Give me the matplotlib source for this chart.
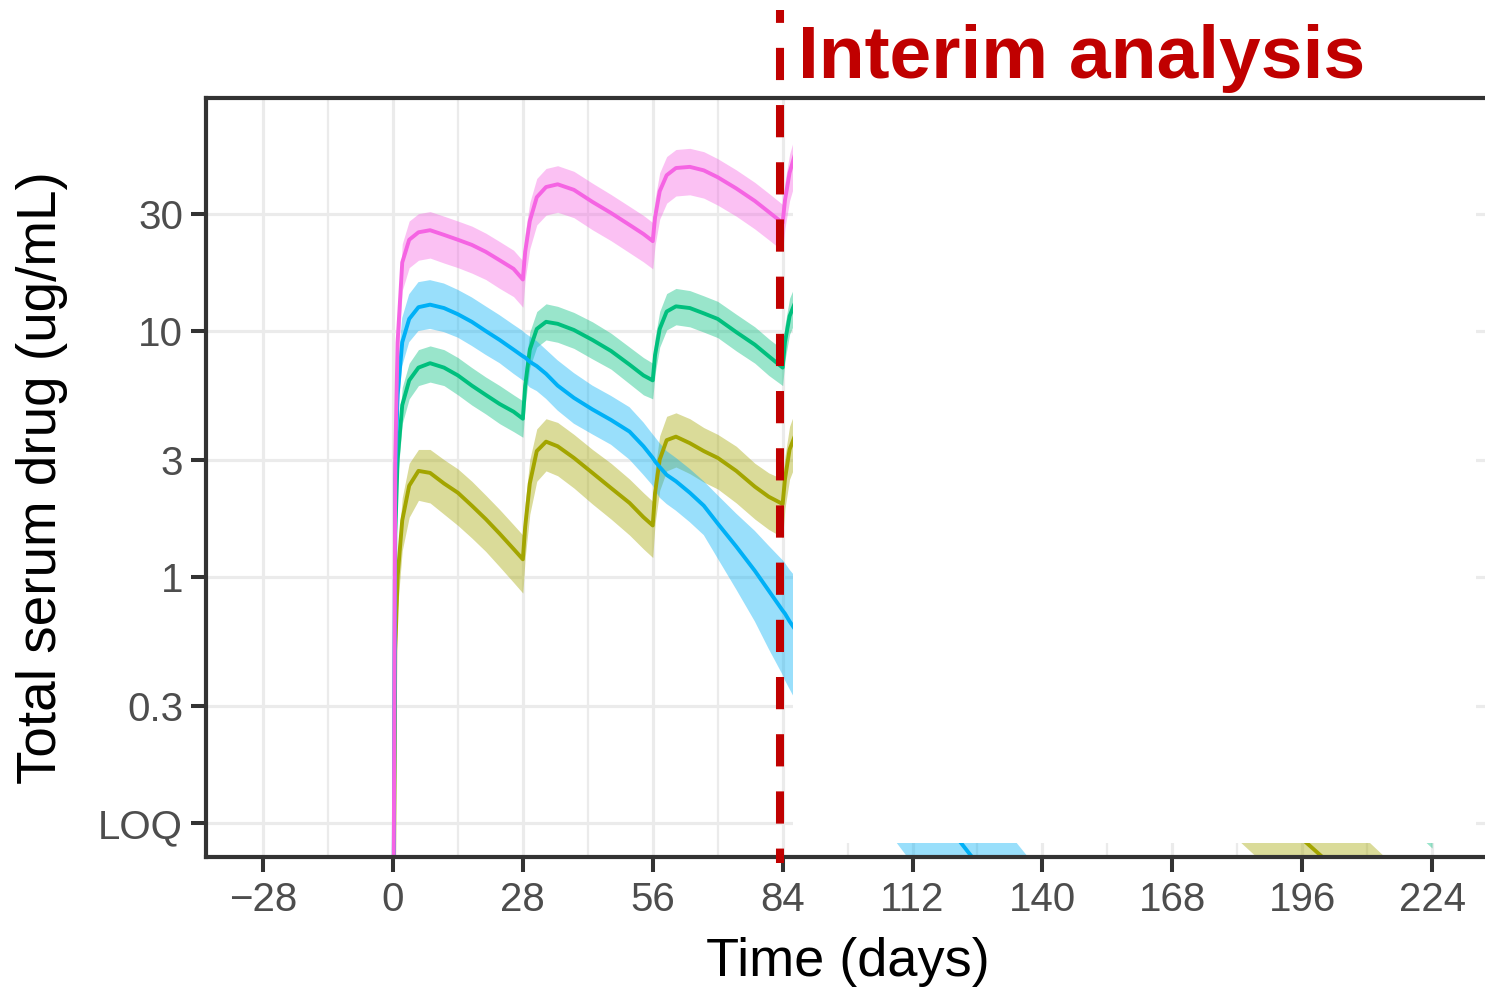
import matplotlib
matplotlib.use('Agg')
import matplotlib.pyplot as plt
from matplotlib.patches import Rectangle
from matplotlib.lines import Line2D
from matplotlib.ticker import FixedLocator, NullLocator

plt.rcParams['font.family'] = ['Liberation Sans', 'DejaVu Sans']

# time grid (days), shared by all dose groups; simulation stops at day 224
days = [0, 0.5, 1, 2, 3.5, 5.5, 8, 11, 14, 17, 20, 23, 26, 28,
        28.5, 29.5, 31, 33, 35.5, 39, 43, 47, 51, 54, 56,
        56.5, 57.5, 59, 61, 64, 67, 70, 74, 78, 81, 84,
        84.5, 85.5, 87, 90, 100, 120, 150, 180, 210, 224]

# olive group (lowest dose, q4w)
olive_med = [0.01, 0.5, 1.0, 1.7, 2.35, 2.7, 2.65, 2.4, 2.2, 1.95, 1.72, 1.5, 1.3, 1.18,
             1.6, 2.4, 3.25, 3.55, 3.4, 3.05, 2.65, 2.3, 2.0, 1.75, 1.62,
             2.2, 3.0, 3.6, 3.72, 3.5, 3.25, 3.05, 2.7, 2.33, 2.12, 1.98,
             2.5, 3.3, 3.9, 4.2, 3.3, 1.55, 0.5, 0.16, 0.05, 0.029]
olive_hi = [0.012, 0.62, 1.25, 2.1, 2.9, 3.3, 3.3, 3.0, 2.75, 2.45, 2.15, 1.88, 1.63, 1.48,
            2.0, 3.0, 4.0, 4.4, 4.25, 3.8, 3.3, 2.9, 2.5, 2.2, 2.03,
            2.75, 3.75, 4.5, 4.65, 4.4, 4.05, 3.8, 3.4, 2.9, 2.65, 2.5,
            3.1, 4.1, 4.9, 5.25, 4.3, 2.2, 0.78, 0.26, 0.085, 0.048]
olive_lo = [0.008, 0.37, 0.75, 1.28, 1.75, 2.05, 2.0, 1.8, 1.62, 1.44, 1.27, 1.1, 0.95, 0.86,
            1.2, 1.8, 2.45, 2.7, 2.58, 2.3, 1.98, 1.72, 1.48, 1.3, 1.2,
            1.65, 2.25, 2.7, 2.8, 2.63, 2.43, 2.28, 2.0, 1.72, 1.56, 1.45,
            1.9, 2.5, 2.95, 3.15, 2.38, 1.04, 0.31, 0.093, 0.028, 0.016]

# green group
green_med = [0.01, 1.5, 3.0, 5.0, 6.3, 7.1, 7.4, 7.1, 6.6, 6.0, 5.5, 5.05, 4.7, 4.4,
             6.0, 8.4, 10.2, 10.9, 10.7, 10.1, 9.2, 8.3, 7.3, 6.6, 6.3,
             8.0, 10.2, 12.0, 12.6, 12.4, 11.8, 11.2, 9.9, 8.8, 7.9, 7.1,
             9.0, 11.5, 13.5, 14.5, 11.0, 5.4, 1.86, 0.64, 0.22, 0.13]
green_hi = [0.012, 1.8, 3.5, 5.9, 7.4, 8.4, 8.7, 8.4, 7.8, 7.1, 6.5, 6.0, 5.5, 5.2,
            7.1, 9.9, 12.0, 12.9, 12.6, 11.9, 10.9, 9.8, 8.6, 7.8, 7.4,
            9.4, 12.0, 14.2, 14.9, 14.6, 13.9, 13.2, 11.7, 10.4, 9.3, 8.4,
            10.6, 13.6, 15.9, 17.4, 13.8, 7.0, 2.6, 0.96, 0.35, 0.21]
green_lo = [0.008, 1.26, 2.5, 4.2, 5.3, 6.0, 6.2, 6.0, 5.5, 5.0, 4.6, 4.2, 3.9, 3.7,
            5.0, 7.1, 8.6, 9.2, 9.0, 8.5, 7.7, 7.0, 6.1, 5.5, 5.3,
            6.7, 8.6, 10.1, 10.6, 10.4, 9.9, 9.4, 8.3, 7.4, 6.6, 6.0,
            7.6, 9.7, 11.3, 11.9, 8.8, 4.1, 1.32, 0.43, 0.139, 0.079]

# blue group (single dose)
blue_med = [0.01, 2.5, 5.5, 9.0, 11.2, 12.5, 12.8, 12.4, 11.7, 10.9, 10.0, 9.2, 8.4, 7.9,
            7.8, 7.5, 7.2, 6.7, 6.0, 5.35, 4.8, 4.35, 3.9, 3.4, 3.05,
            2.95, 2.8, 2.6, 2.45, 2.2, 1.95, 1.65, 1.33, 1.06, 0.88, 0.73,
            0.71, 0.66, 0.6, 0.5, 0.29, 0.095, 0.018, 0.0035, 0.0007, 0.00033]
blue_hi = [0.013, 3.15, 6.9, 11.3, 14.1, 15.8, 16.1, 15.6, 14.7, 13.7, 12.6, 11.6, 10.6, 10.0,
           9.8, 9.5, 9.1, 8.4, 7.6, 6.75, 6.0, 5.45, 4.9, 4.25, 3.8,
           3.7, 3.5, 3.25, 3.05, 2.75, 2.45, 2.15, 1.81, 1.54, 1.34, 1.17,
           1.14, 1.07, 0.99, 0.85, 0.52, 0.18, 0.036, 0.007, 0.0014, 0.0007]
blue_lo = [0.008, 2.0, 4.4, 7.2, 9.0, 10.0, 10.2, 9.9, 9.4, 8.7, 8.0, 7.4, 6.7, 6.3,
           6.2, 5.9, 5.7, 5.3, 4.75, 4.2, 3.8, 3.45, 3.0, 2.6, 2.35,
           2.25, 2.1, 1.98, 1.86, 1.67, 1.48, 1.19, 0.89, 0.66, 0.51, 0.40,
           0.38, 0.35, 0.31, 0.25, 0.136, 0.043, 0.0077, 0.0015, 0.0003, 0.00014]

# pink group (highest dose, q4w)
pink_med = [0.01, 3.0, 9.0, 19.0, 23.5, 25.2, 25.7, 24.6, 23.5, 22.4, 21.0, 19.4, 17.9, 16.2,
            21.0, 28.0, 35.0, 38.5, 39.5, 37.5, 33.5, 30.2, 27.0, 24.8, 23.2,
            29.0, 37.0, 43.0, 46.0, 46.5, 45.0, 42.2, 38.0, 33.8, 30.5, 27.5,
            34.0, 44.0, 55.0, 60.0, 50.0, 30.0, 13.0, 5.8, 2.6, 1.8]
pink_hi = [0.012, 3.6, 10.7, 22.6, 28.0, 30.0, 30.6, 29.3, 28.0, 26.7, 25.0, 23.1, 21.3, 19.3,
           25.0, 33.3, 41.7, 45.8, 47.0, 44.6, 39.9, 35.9, 32.1, 29.5, 27.6,
           34.5, 44.0, 51.2, 54.7, 55.3, 53.6, 50.2, 45.2, 40.2, 36.3, 32.7,
           40.5, 52.4, 65.5, 71.4, 59.5, 35.7, 15.5, 6.9, 3.1, 2.1]
pink_lo = [0.008, 2.3, 6.9, 14.6, 18.1, 19.4, 19.8, 18.9, 18.1, 17.2, 16.2, 14.9, 13.8, 12.5,
           16.2, 21.6, 27.0, 29.6, 30.4, 28.9, 25.8, 23.3, 20.8, 19.1, 17.9,
           22.3, 28.5, 33.1, 35.4, 35.8, 34.7, 32.5, 29.3, 26.0, 23.5, 21.2,
           26.2, 33.9, 42.4, 46.2, 38.5, 23.1, 10.0, 4.5, 2.0, 1.4]

x_ticks = [-28, 0, 28, 56, 84, 112, 140, 168, 196, 224]
x_minor = [-14, 14, 42, 70, 98, 126, 154, 182, 210]
y_ticks = [0.1, 0.3, 1, 3, 10, 30]
y_labels = ['LOQ', '0.3', '1', '3', '10', '30']

groups = [('#A3A500', olive_med, olive_lo, olive_hi),
          ('#00BF7D', green_med, green_lo, green_hi),
          ('#00B0F6', blue_med, blue_lo, blue_hi),
          ('#F564E3', pink_med, pink_lo, pink_hi)]

fig = plt.figure(figsize=(14.85, 9.9), dpi=100)
ax = fig.add_axes([206/1485., 1 - 857/990., 1279/1485., 759/990.])

# ribbons first, lines on top (ggplot layer order)
for color, med, lo, hi in groups:
    ax.fill_between(days, lo, hi, color=color, alpha=0.4, linewidth=0, zorder=1)
for color, med, lo, hi in groups:
    ax.plot(days, med, color=color, linewidth=2.8, zorder=2)

ax.set_yscale('log')
ax.set_xlim(-40.3, 235.4)
ax.set_ylim(0.0727, 88.6)

ax.xaxis.set_major_locator(FixedLocator(x_ticks))
ax.set_xticklabels([str(v).replace('-', '\u2212') for v in x_ticks])
ax.xaxis.set_minor_locator(FixedLocator(x_minor))
ax.yaxis.set_major_locator(FixedLocator(y_ticks))
ax.set_yticklabels(y_labels)
ax.yaxis.set_minor_locator(NullLocator())

ax.set_axisbelow(True)
ax.grid(which='major', color='#EBEBEB', linewidth=2.3)
ax.grid(which='minor', axis='x', color='#EBEBEB', linewidth=1.6)

ax.tick_params(which='major', length=10.5, width=2.9, color='#333333',
               labelsize=29, labelcolor='#4D4D4D')
ax.tick_params(axis='x', pad=7)
ax.tick_params(axis='y', pad=6)
ax.tick_params(which='minor', length=0)

for side in ['top', 'left', 'bottom']:
    ax.spines[side].set_color('#333333')
    ax.spines[side].set_linewidth(3)
    ax.spines[side].set_zorder(5)
ax.spines['right'].set_visible(False)

# hide everything after the interim cut-off
ax.add_patch(Rectangle((86.15, 0.0829), 233.5 - 86.15, 1000,
                       facecolor='white', edgecolor='none', zorder=3))

# interim analysis marker
ax.add_line(Line2D([83.5, 83.5], [1.116, -0.008], transform=ax.get_xaxis_transform(),
                   color='#C00000', linewidth=5.8, linestyle=(2.4, (4.0, 3.1)),
                   clip_on=False, zorder=6))
fig.text(798/1485., 1 - 78/990., 'Interim analysis', fontsize=54, fontweight='bold',
         color='#C00000', ha='left', va='baseline')

ax.set_xlabel('Time (days)', fontsize=39, color='black', va='center')
ax.xaxis.set_label_coords(0.502, -0.138)
ax.set_ylabel('Total serum drug (ug/mL)', fontsize=39.5, color='black', va='center')
ax.yaxis.set_label_coords(-0.128, 0.5)

fig.savefig('out.png', dpi=100)
